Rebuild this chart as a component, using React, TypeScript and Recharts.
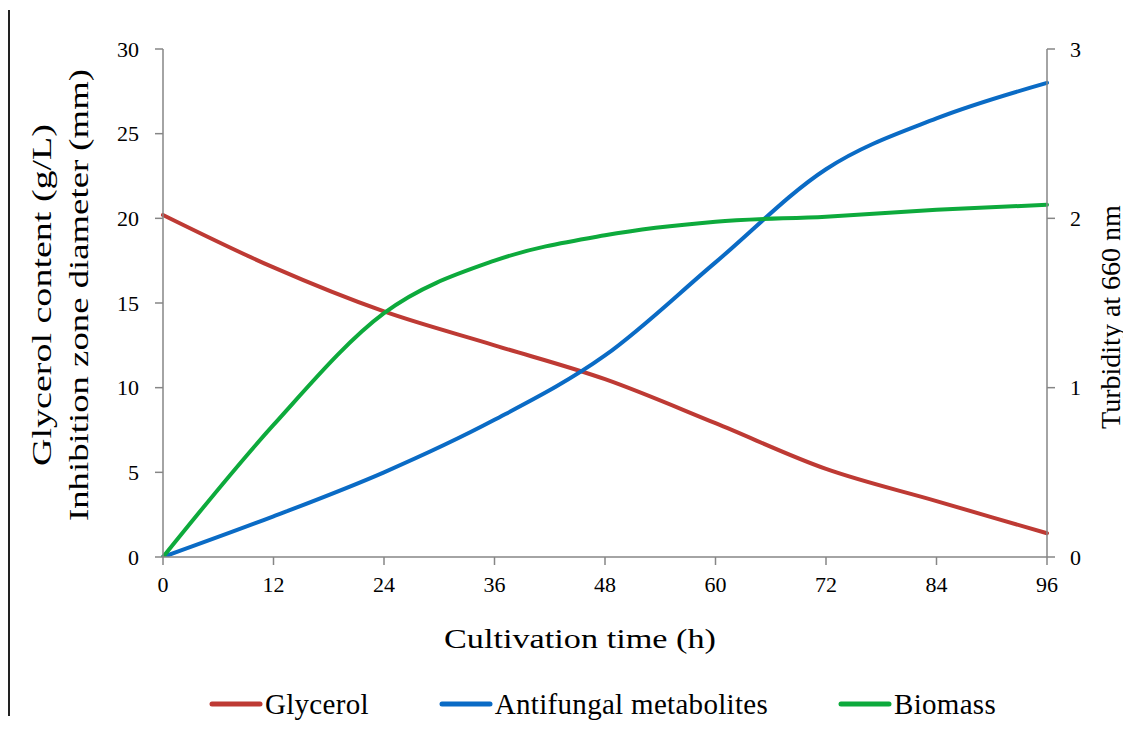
import { LineChart, Line, XAxis, YAxis, Legend, Label } from 'recharts';

// Cultivation time (h)
const hours = [0, 12, 24, 36, 48, 60, 72, 84, 96];
// Glycerol content (g/L), left axis
const glycerol = [20.2, 17.1, 14.5, 12.5, 10.5, 7.9, 5.2, 3.3, 1.4];
// Inhibition zone diameter (mm), left axis
const antifungal = [0, 2.4, 5.0, 8.1, 11.9, 17.4, 22.9, 25.9, 28.0];
// Turbidity at 660 nm, right axis
const biomass = [0, 0.78, 1.44, 1.75, 1.9, 1.98, 2.01, 2.05, 2.08];

const xTicks = [0, 12, 24, 36, 48, 60, 72, 84, 96];
const leftTicks = [0, 5, 10, 15, 20, 25, 30];
const rightTicks = [0, 1, 2, 3];

const SERIES = [
  { key: 'glycerol', name: 'Glycerol', color: '#BE3A34', axis: 'left' },
  { key: 'antifungal', name: 'Antifungal metabolites', color: '#0A6BC5', axis: 'left' },
  { key: 'biomass', name: 'Biomass', color: '#0DAA3C', axis: 'right' },
];

const data = hours.map((h, i) => ({
  h,
  glycerol: glycerol[i],
  antifungal: antifungal[i],
  biomass: biomass[i],
}));

const FONT = "'Liberation Serif', serif";
const AXIS = '#868686';
const tickStyle = { fontSize: 22, fill: '#000', fontFamily: FONT };

const renderLegend = () => (
  <div
    style={{
      display: 'flex',
      justifyContent: 'center',
      alignItems: 'center',
      gap: 70,
      paddingLeft: 66,
      fontFamily: FONT,
      fontSize: 29,
      letterSpacing: 0.3,
      height: 36,
      color: '#000',
    }}
  >
    {SERIES.map((s) => (
      <div key={s.key} style={{ display: 'flex', alignItems: 'center' }}>
        <svg width={54} height={8} style={{ marginRight: 2 }}>
          <line x1={3} y1={4} x2={51} y2={4} stroke={s.color} strokeWidth={5} strokeLinecap="round" />
        </svg>
        <span>{s.name}</span>
      </div>
    ))}
  </div>
);

const xTitle = () => (
  <text x={572} y={640} textAnchor="middle" style={{ fontFamily: FONT }} fontSize={28} fill="#000"
    textLength={272} lengthAdjust="spacingAndGlyphs">
    Cultivation time (h)
  </text>
);

const leftTitle = () => (
  <g style={{ fontFamily: FONT }} fontSize={28} fill="#000">
    <text transform="translate(43,287) rotate(-90)" textAnchor="middle"
      textLength={342} lengthAdjust="spacingAndGlyphs">
      Glycerol content (g/L)
    </text>
    <text transform="translate(80,287) rotate(-90)" textAnchor="middle"
      textLength={452} lengthAdjust="spacingAndGlyphs">
      Inhibition zone diameter (mm)
    </text>
  </g>
);

const rightTitle = () => (
  <text transform="translate(1112,309) rotate(-90)" textAnchor="middle"
    style={{ fontFamily: FONT }} fontSize={28} fill="#000">
    Turbidity at 660 nm
  </text>
);

export default function App() {
  return (
    <div style={{ position: 'relative', width: 1123, height: 714 }}>
      <div style={{ position: 'absolute', left: 0, top: 2, width: 2, height: 706, background: '#222' }} />
      <LineChart width={1123} height={714} data={data}
        margin={{ top: 41, right: 0, bottom: 0, left: 0 }}>
        <XAxis dataKey="h" type="number" domain={[0, 96]} ticks={xTicks}
          height={129} tickSize={8} tickMargin={11} tick={tickStyle}
          stroke={AXIS} strokeWidth={1.5} tickLine={{ stroke: AXIS, strokeWidth: 1.5 }}>
          <Label content={xTitle} />
        </XAxis>
        <YAxis yAxisId="left" orientation="left" domain={[0, 30]} ticks={leftTicks}
          width={155} tickSize={8} tickMargin={16} tick={tickStyle} allowDataOverflow
          stroke={AXIS} strokeWidth={1.5} tickLine={{ stroke: AXIS, strokeWidth: 1.5 }}>
          <Label content={leftTitle} />
        </YAxis>
        <YAxis yAxisId="right" orientation="right" domain={[0, 3]} ticks={rightTicks}
          width={84} tickSize={8} tickMargin={15} tick={tickStyle} allowDataOverflow
          stroke={AXIS} strokeWidth={1.5} tickLine={{ stroke: AXIS, strokeWidth: 1.5 }}>
          <Label content={rightTitle} />
        </YAxis>
        <Legend verticalAlign="bottom" height={36} content={renderLegend} />
        {SERIES.map((s) => (
          <Line key={s.key} yAxisId={s.axis} dataKey={s.key} name={s.name}
            type="monotone" stroke={s.color} strokeWidth={4} strokeLinecap="round"
            dot={false} activeDot={false} isAnimationActive={false} />
        ))}
      </LineChart>
    </div>
  );
}
